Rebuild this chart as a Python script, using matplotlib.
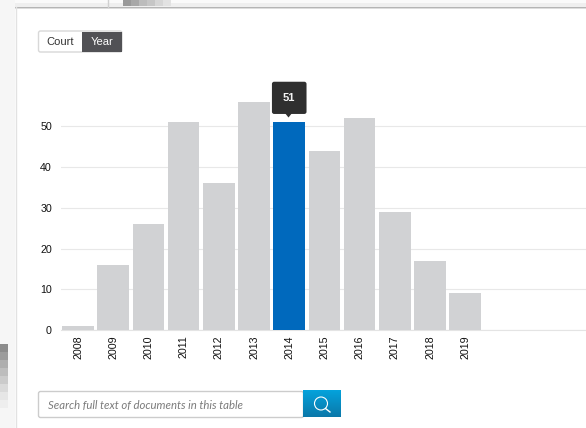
import matplotlib
matplotlib.use("Agg")
import matplotlib.pyplot as plt
import numpy as np
from matplotlib.patches import Rectangle, FancyBboxPatch, Circle, Polygon

plt.rcParams['font.family'] = ['Liberation Sans', 'DejaVu Sans']

years = ["2008", "2009", "2010", "2011", "2012", "2013", "2014", "2015", "2016", "2017", "2018", "2019"]
counts = [1, 16, 26, 51, 36, 56, 51, 44, 52, 29, 17, 9]
y_ticks = [0, 10, 20, 30, 40, 50]
highlight_year = "2014"

W, H = 586, 428
fig = plt.figure(figsize=(W / 100, H / 100), dpi=100)

# fond de page, coordonnees en pixels
bg = fig.add_axes([0, 0, 1, 1])
bg.set_xlim(0, W)
bg.set_ylim(H, 0)
bg.axis("off")
bg.add_patch(Rectangle((0, 0), W, 3, fc="#fafafa", ec="none"))
bg.add_patch(Rectangle((0, 3), W, 4, fc="#efefef", ec="none"))
bg.add_patch(Rectangle((0, 0), 15, H, fc="#f6f6f6", ec="none"))
bg.add_patch(Rectangle((15, 7), W, 1, fc="#b5b5b5", ec="none"))
bg.add_patch(Rectangle((15, 8), W, 1, fc="#dddddd", ec="none"))
bg.plot([15.5, 15.5], [7, H], color="#e2e2e2", lw=1)
bg.plot([108, 108], [0, 7], color="#d0d0d0", lw=1)
for x0, c in zip(range(123, 171, 8), ["#9a9a9a", "#a8a8a8", "#bcbcbc", "#c6c6c6", "#d6d6d6", "#e2e2e2"]):
    bg.add_patch(Rectangle((x0, 0), 8, 6, fc=c, ec="none"))
for y0, c in zip(range(344, 404, 8), ["#8c8c8c", "#9c9c9c", "#aeaeae", "#bdbdbd", "#cbcbcb", "#dadada", "#e6e6e6", "#eeeeee"]):
    bg.add_patch(Rectangle((0, y0), 8, 8, fc=c, ec="none"))

# boutons Court / Year
bg.add_patch(FancyBboxPatch((38.5, 31), 83.5, 21, boxstyle="round,pad=0,rounding_size=2", fc="white", ec="#d8d8d8", lw=1))
bg.add_patch(Rectangle((82, 31.5), 39.5, 20, fc="#515155", ec="none"))
bg.text(60.5, 42, "Court", ha="center", va="center", fontsize=8, color="#333333")
bg.text(102, 42, "Year", ha="center", va="center", fontsize=8, color="white")

# barre de recherche
bg.add_patch(FancyBboxPatch((38.5, 391.5), 265, 26, boxstyle="round,pad=0,rounding_size=2", fc="white", ec="#cccccc", lw=1))
grad = np.linspace(0, 1, 26)[:, None, None] * np.array([[[0x0b - 0x04, 0x78 - 0xa2, 0xa9 - 0xdc]]]) / 255 \
    + np.array([[[0x04, 0xa2, 0xdc]]]) / 255
bg.imshow(grad, extent=(303, 341, 417.5, 391), aspect="auto", zorder=2)
bg.set_xlim(0, W)
bg.set_ylim(H, 0)
bg.text(48, 405.5, "Search full text of documents in this table", ha="left", va="center",
        fontsize=8.2, style="italic", color="#7b7b7b", family="Lato")
bg.add_patch(Circle((321, 403.5), 6.5, fc="none", ec="white", lw=0.8, zorder=3))
bg.plot([325.5, 330], [408.5, 412], color="white", lw=1, zorder=3)

# graphique
left, right, top, bottom = 61, 586, 80, 330
ax = fig.add_axes([left / W, 1 - bottom / H, (right - left) / W, (bottom - top) / H])
ax.patch.set_alpha(0)
ax.set_xlim(-0.483, 14.43)
ax.set_ylim(0, 61.4)

colors = ["#0069bd" if y == highlight_year else "#d1d2d4" for y in years]
pos = list(range(len(years)))
ax.bar(pos, counts, width=0.9, color=colors, zorder=3)

ax.set_yticks(y_ticks)
ax.set_xticks(pos)
ax.set_xticklabels(years, rotation=90)
ax.tick_params(axis="both", length=0, labelsize=7.7, labelcolor="#111111")
ax.tick_params(axis="x", pad=4)
ax.tick_params(axis="y", pad=6.5)
ax.grid(axis="y", color="#e8e8e8", lw=0.8, zorder=0)
for s in ax.spines.values():
    s.set_visible(False)
ax.spines["bottom"].set_visible(True)
ax.spines["bottom"].set_color("#e4e4e4")

# infobulle sur l'annee selectionnee
i = years.index(highlight_year)
ax.annotate(str(counts[i]), xy=(i, counts[i]), xytext=(0, 19.5), textcoords="offset pixels",
            ha="center", va="bottom", fontsize=8, fontweight="bold", color="#f4f4f4", zorder=6,
            bbox=dict(boxstyle="round,pad=1.0,rounding_size=0.2", fc="#2f2f2f", ec="none"))
bg.set_zorder(0)
ax.set_zorder(1)
tip_x = 288.5
top_layer = fig.add_axes([0, 0, 1, 1])
top_layer.set_xlim(0, W)
top_layer.set_ylim(H, 0)
top_layer.axis("off")
top_layer.add_patch(Polygon([[tip_x - 4, 112.5], [tip_x + 4, 112.5], [tip_x, 117.5]], fc="#2f2f2f", ec="none"))

fig.savefig("out.png", dpi=100, facecolor="white")
